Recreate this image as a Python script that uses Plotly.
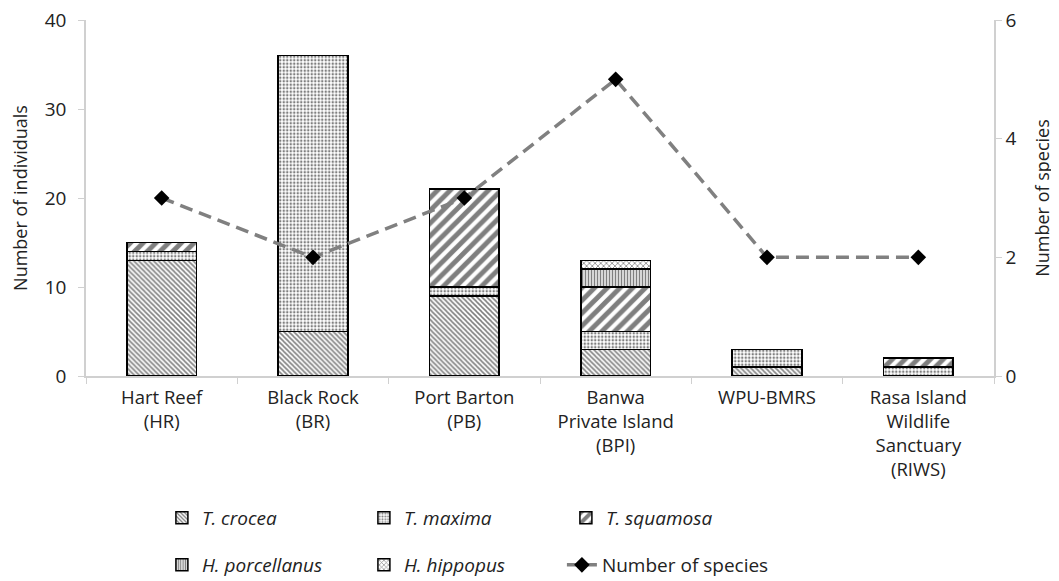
import plotly.graph_objects as go

sites = ["Hart Reef<br>(HR)", "Black Rock<br>(BR)", "Port Barton<br>(PB)",
         "Banwa<br>Private Island<br>(BPI)", "WPU-BMRS",
         "Rasa Island<br>Wildlife<br>Sanctuary<br>(RIWS)"]
t_crocea = [13, 5, 9, 3, 1, 0]
t_maxima = [1, 31, 1, 2, 2, 1]
t_squamosa = [1, 0, 11, 5, 0, 1]
h_porcellanus = [0, 0, 0, 2, 0, 0]
h_hippopus = [0, 0, 0, 1, 0, 0]
n_species = [3, 2, 3, 5, 2, 2]

FONT = "Open Sans"
AX = "#d0d0d0"
W, H = 1051, 573  # page body adds an 8px margin in the 1059x581 window

series = [
    ("T. crocea", t_crocea, dict(shape="\\", size=3.5, solidity=0.45), "legend"),
    ("T. maxima", t_maxima, dict(shape=".", size=3.5, solidity=0.4), "legend"),
    ("T. squamosa", t_squamosa, dict(shape="/", size=9, solidity=0.55), "legend"),
    ("H. porcellanus", h_porcellanus, dict(shape="|", size=3, solidity=0.55), "legend2"),
    ("H. hippopus", h_hippopus, dict(shape="x", size=4, solidity=0.35), "legend2"),
]

fig = go.Figure()
for name, vals, pat, leg in series:
    fig.add_trace(go.Bar(
        x=sites, y=vals, name="<i>" + name + "</i>", legend=leg,
        marker=dict(color="white", line=dict(color="black", width=1.5),
                    pattern=dict(fgcolor="black", bgcolor="white", fillmode="overlay", **pat)),
        width=0.46,
    ))

fig.add_trace(go.Scatter(
    x=sites, y=n_species, name="Number of species", yaxis="y2", legend="legend3",
    mode="lines+markers",
    line=dict(color="#808080", width=3.5, dash="13px,7px"),
    marker=dict(symbol="diamond", color="black", size=12),
))

leg_common = dict(orientation="h", yref="container", xanchor="left", yanchor="middle",
                  entrywidth=157, font=dict(size=19), traceorder="normal")

fig.update_layout(
    width=W, height=H,
    barmode="stack",
    paper_bgcolor="white", plot_bgcolor="white",
    margin=dict(l=78, r=65, t=12, b=205),
    font=dict(family=FONT, size=19, color="#222"),
    xaxis=dict(showline=True, linecolor=AX, linewidth=1.5, ticks="outside",
               tickson="boundaries", tickcolor=AX, ticklen=6, showgrid=False,
               ticklabelstandoff=4, tickfont=dict(size=18.5), automargin=False,
               ticklabeloverflow="allow"),
    yaxis=dict(range=[0, 40], dtick=10, showline=True, linecolor=AX, linewidth=1.5,
               ticks="outside", tickcolor=AX, ticklen=6, showgrid=False, zeroline=False,
               ticklabelstandoff=8, automargin=False, ticklabeloverflow="allow",
               title=dict(text="Number of individuals", font=dict(size=18), standoff=13),
               tickfont=dict(size=19)),
    yaxis2=dict(range=[0, 6], dtick=2, overlaying="y", side="right", showline=True,
                linecolor=AX, linewidth=1.5, ticks="outside", tickcolor=AX, ticklen=6,
                showgrid=False, zeroline=False, ticklabelstandoff=0, automargin=False,
                ticklabeloverflow="allow",
                title=dict(text="Number of species", font=dict(size=18), standoff=21),
                tickfont=dict(size=19)),
    legend=dict(x=0.0836, y=1 - 510 / H, **leg_common),
    legend2=dict(x=0.0836, y=1 - 557 / H, **leg_common),
    legend3=dict(x=0.0836 + 2 * 200 / 908, y=1 - 557 / H,
                 **{k: v for k, v in leg_common.items() if k != "entrywidth"}),
    showlegend=True,
)

fig.write_html("out.html")
